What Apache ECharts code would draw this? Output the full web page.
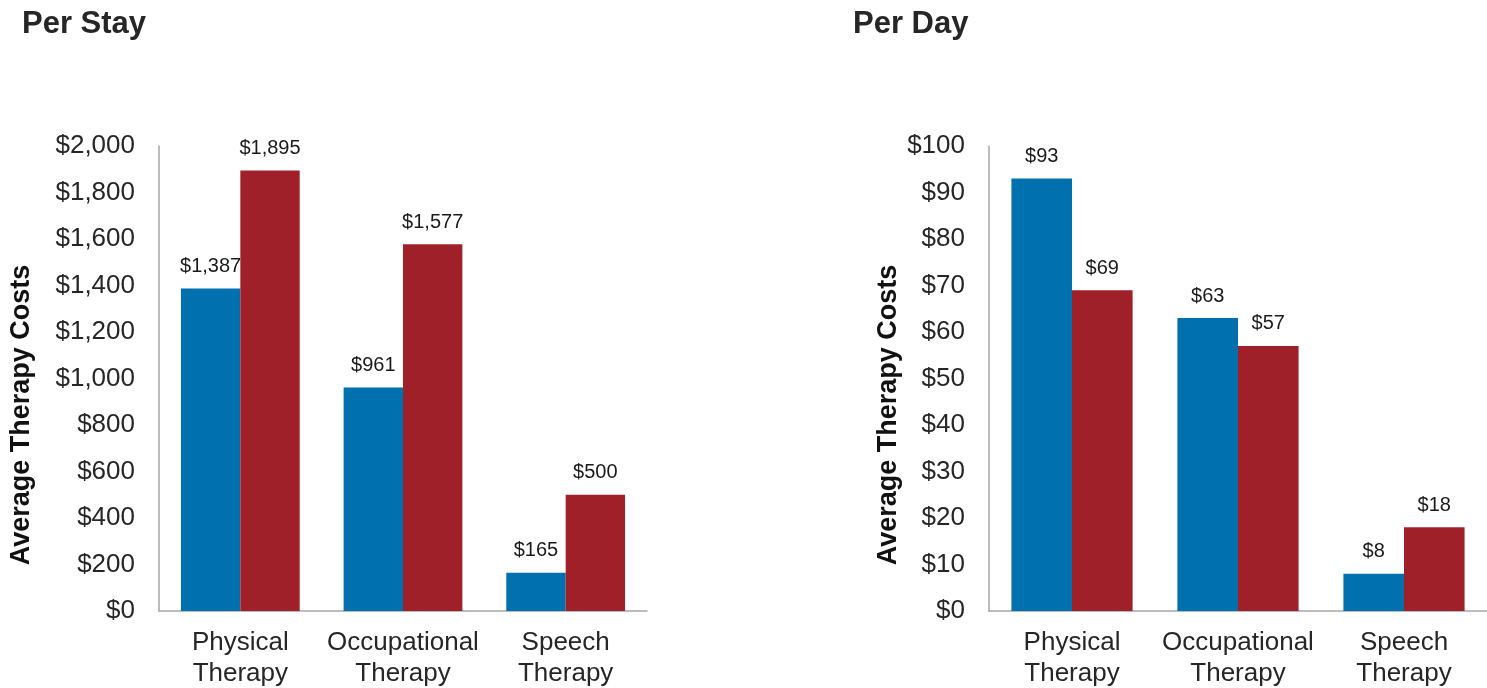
<!DOCTYPE html>
<html>
<head>
<meta charset="utf-8">
<script src="https://cdn.jsdelivr.net/npm/echarts@6/dist/echarts.min.js"></script>
<style>
  html, body { margin: 0; padding: 0; background: #fff; }
  #container { width: 1487px; height: 688px; }
</style>
</head>
<body>
<div id="container"></div>
<script>
// data
var categories = ['Physical\nTherapy', 'Occupational\nTherapy', 'Speech\nTherapy'];
var stayBlue = [1387, 961, 165];
var stayRed = [1895, 1577, 500];
var dayBlue = [93, 63, 8];
var dayRed = [69, 57, 18];

var BLUE = '#0070AF';
var RED = '#A0202A';
var FONT = 'Liberation Sans, Arial, sans-serif';

function money(v) {
    return '$' + Number(v).toLocaleString('en-US');
}

function xAxisFor(idx) {
    return {
        type: 'category',
        gridIndex: idx,
        data: categories,
        axisLine: { lineStyle: { color: '#A6A6A6', width: 1.5 } },
        axisTick: { show: false },
        axisLabel: { interval: 0, color: '#262626', fontSize: 26, fontFamily: FONT, lineHeight: 31, margin: 16 }
    };
}

function yAxisFor(idx, max, step) {
    return {
        type: 'value',
        gridIndex: idx,
        min: 0,
        max: max,
        interval: step,
        axisLine: { show: true, lineStyle: { color: '#A6A6A6', width: 1.5 } },
        axisTick: { show: false },
        splitLine: { show: false },
        axisLabel: { color: '#262626', fontSize: 26, fontFamily: FONT, margin: 24, formatter: money }
    };
}

function barFor(idx, data, color) {
    return {
        type: 'bar',
        xAxisIndex: idx,
        yAxisIndex: idx,
        data: data,
        barGap: '0%',
        barCategoryGap: '27%',
        itemStyle: { color: color },
        label: {
            show: true,
            position: 'top',
            distance: 12,
            color: '#1a1a1a',
            fontSize: 20,
            fontFamily: FONT,
            formatter: function (p) { return money(p.value); }
        }
    };
}

var myChart = echarts.init(document.getElementById('container'));

var option = {
    animation: false,
    textStyle: { fontFamily: FONT },
    title: [
        { text: 'Per Stay', left: 17, top: 4, textStyle: { fontSize: 31, fontWeight: 'bold', color: '#262626', fontFamily: FONT } },
        { text: 'Per Day', left: 848, top: 4, textStyle: { fontSize: 31, fontWeight: 'bold', color: '#262626', fontFamily: FONT } }
    ],
    grid: [
        { left: 159, right: 840, top: 146, bottom: 77, outerBoundsMode: 'none' },
        { left: 989, right: 0, top: 146, bottom: 77, outerBoundsMode: 'none' }
    ],
    xAxis: [xAxisFor(0), xAxisFor(1)],
    yAxis: [yAxisFor(0, 2000, 200), yAxisFor(1, 100, 10)],
    graphic: [
        {
            type: 'text', x: 22, y: 415, rotation: Math.PI / 2,
            style: { text: 'Average Therapy Costs', fontSize: 27, fontWeight: 'bold', fill: '#111', fontFamily: FONT, align: 'center', verticalAlign: 'middle' }
        },
        {
            type: 'text', x: 889, y: 415, rotation: Math.PI / 2,
            style: { text: 'Average Therapy Costs', fontSize: 27, fontWeight: 'bold', fill: '#111', fontFamily: FONT, align: 'center', verticalAlign: 'middle' }
        }
    ],
    series: [
        barFor(0, stayBlue, BLUE),
        barFor(0, stayRed, RED),
        barFor(1, dayBlue, BLUE),
        barFor(1, dayRed, RED)
    ]
};

myChart.setOption(option, true);
</script>
</body>
</html>
